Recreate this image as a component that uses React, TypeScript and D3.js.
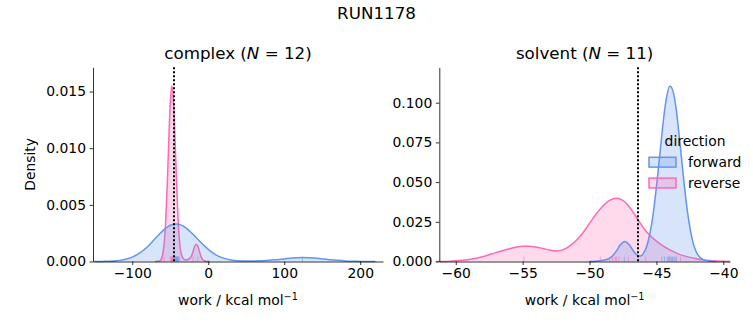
import React, { useRef, useEffect } from 'react';
import * as d3 from 'd3';

type Pt = [number, number];

// density curves: [work (kcal/mol), density]
const complexForwardKde: Pt[] = [
  [-150, 0], [-140, 0.00001], [-130, 0.00002], [-120, 0.00007], [-110, 0.00017],
  [-100, 0.00039], [-90, 0.00076], [-80, 0.0013], [-70, 0.002], [-60, 0.0027],
  [-50, 0.0032], [-42, 0.0033], [-30, 0.003], [-20, 0.0024], [-10, 0.0017],
  [0, 0.00107], [10, 0.00059], [20, 0.0003], [30, 0.00014], [40, 0.00007],
  [50, 0.00005], [60, 0.00005], [70, 0.00007], [80, 0.0001], [90, 0.00016],
  [100, 0.00023], [110, 0.0003], [125, 0.00035], [140, 0.0003], [150, 0.00023],
  [160, 0.00016], [170, 0.0001], [180, 0.00005], [190, 0.00002], [200, 0.00001],
  [210, 0], [220, 0],
];
const complexReverseKde: Pt[] = [
  [-70, 0], [-64, 0.00005], [-62, 0.0002], [-60, 0.0006], [-58, 0.0016],
  [-56, 0.0036], [-54, 0.0067], [-52, 0.0106], [-50, 0.014], [-48, 0.0155],
  [-46, 0.0144], [-44, 0.0113], [-42, 0.0075], [-40, 0.0041], [-38, 0.0019],
  [-36, 0.0008], [-34, 0.0004], [-32, 0.0002], [-30, 0.00015], [-28, 0.00015],
  [-26, 0.0002], [-24, 0.0003], [-22, 0.0005], [-20, 0.0009], [-18, 0.0013],
  [-16, 0.00153], [-14, 0.0014], [-12, 0.001], [-10, 0.00053], [-8, 0.00023],
  [-5, 0.00005], [-2, 0], [2, 0],
];
const solventForwardKde: Pt[] = [
  [-50, 0], [-49.5, 0.0002], [-49, 0.0008], [-48.5, 0.002], [-48, 0.0065],
  [-47.7, 0.0105], [-47.37, 0.0126], [-47, 0.0102], [-46.7, 0.0063], [-46.4, 0.0038],
  [-46.2, 0.0034], [-46, 0.0048], [-45.75, 0.009], [-45.5, 0.017], [-45.25, 0.0295],
  [-45, 0.047], [-44.75, 0.067], [-44.5, 0.0874], [-44.25, 0.103], [-44, 0.1105],
  [-43.75, 0.107], [-43.5, 0.0945], [-43.25, 0.0754], [-43, 0.0547], [-42.75, 0.036],
  [-42.5, 0.0215], [-42.25, 0.0115], [-42, 0.0057], [-41.5, 0.0012], [-41, 0.0002],
  [-40.5, 0],
];
const solventReverseKde: Pt[] = [
  [-61.5, 0], [-60.5, 0.0002], [-60, 0.0004], [-59, 0.0013], [-58, 0.003],
  [-57, 0.0056], [-56, 0.008], [-55, 0.0096], [-54.5, 0.0096], [-54, 0.0091],
  [-53.5, 0.0082], [-53, 0.0072], [-52.5, 0.0066], [-52, 0.0073], [-51.5, 0.0097],
  [-51, 0.0132], [-50.5, 0.018], [-50, 0.024], [-49.5, 0.03], [-49, 0.035],
  [-48.5, 0.0385], [-48, 0.0398], [-47.5, 0.0385], [-47, 0.034], [-46.5, 0.028],
  [-46, 0.0215], [-45.5, 0.0165], [-45, 0.0128], [-44.5, 0.0098], [-44, 0.0073],
  [-43.5, 0.0053], [-43, 0.0037], [-42.5, 0.0026], [-42, 0.0018], [-41.5, 0.0011],
  [-41, 0.0006], [-40.5, 0.0003], [-40, 0.0001], [-39.5, 0],
];

// individual work values (rug)
const complexForwardWork = [-45, -44, -43, -42.5, -42, -41.5, -41, -40.5, -40, -39, -38, 124];
const complexReverseWork = [-61, -58, -50, -49, -48.5, -48, -47.5, -47, -46.5, -45.5, -20, -14];
const solventForwardWork = [-47.4, -44.6, -44.4, -44.2, -44.1, -44, -43.9, -43.8, -43.7, -43.6, -43.5];
const solventReverseWork = [-54.9, -49.2, -48.5, -48.3, -48.1, -48, -47.8, -47.1, -45.8, -44, -43.2];

// free energy estimates (dotted lines)
const complexDeltaG = -45.2;
const solventDeltaG = -46.4;

const complexXTicks = [-100, 0, 100, 200];
const complexYTicks = [0, 0.005, 0.01, 0.015];
const solventXTicks = [-60, -55, -50, -45, -40];
const solventYTicks = [0, 0.025, 0.05, 0.075, 0.1];

const directions = ['forward', 'reverse'];
const colors: Record<string, string> = { forward: '#6495ED', reverse: '#FF69B4' };

const FONT = "'DejaVu Sans', sans-serif";

const App: React.FC = () => {
  const svgRef = useRef<SVGSVGElement>(null);

  useEffect(() => {
    if (!svgRef.current) return;
    const svg = d3.select(svgRef.current);
    svg.selectAll('*').remove();
    svg.style('font-family', FONT);

    const top = 67.3;
    const bottom = 261.5;

    const panels = [
      {
        label: 'complex', n: 12, left: 93, right: 383, xDomain: [-151.7, 230], yMax: 0.01714,
        xTicks: complexXTicks, yTicks: complexYTicks, yFmt: '.3f',
        kde: { forward: complexForwardKde, reverse: complexReverseKde },
        rug: { forward: complexForwardWork, reverse: complexReverseWork },
        dG: complexDeltaG, yLabel: true,
      },
      {
        label: 'solvent', n: 11, left: 439.3, right: 730, xDomain: [-61.23, -39.5], yMax: 0.1223,
        xTicks: solventXTicks, yTicks: solventYTicks, yFmt: '.3f',
        kde: { forward: solventForwardKde, reverse: solventReverseKde },
        rug: { forward: solventForwardWork, reverse: solventReverseWork },
        dG: solventDeltaG, yLabel: false,
      },
    ];

    // figure title
    svg.append('text')
      .attr('x', 376.5).attr('y', 18.5)
      .attr('text-anchor', 'middle')
      .style('font-size', '16.7px')
      .text('RUN1178');

    panels.forEach(p => {
      const x = d3.scaleLinear().domain(p.xDomain).range([p.left, p.right]);
      const y = d3.scaleLinear().domain([0, p.yMax]).range([bottom, top]);
      const g = svg.append('g');

      const area = d3.area<Pt>()
        .x(d => x(d[0]))
        .y0(y(0))
        .y1(d => y(d[1]))
        .curve(d3.curveMonotoneX);
      const line = d3.line<Pt>()
        .x(d => x(d[0]))
        .y(d => y(d[1]))
        .curve(d3.curveMonotoneX);

      // seaborn draws hue levels in reverse order
      [...directions].reverse().forEach(dir => {
        const data = (p.kde as any)[dir] as Pt[];
        g.append('path')
          .datum(data)
          .attr('d', area)
          .attr('fill', colors[dir])
          .attr('fill-opacity', 0.25);
        g.append('path')
          .datum(data)
          .attr('d', line)
          .attr('fill', 'none')
          .attr('stroke', colors[dir])
          .attr('stroke-width', 1.5);
      });

      // rug
      directions.forEach(dir => {
        g.selectAll(`.rug-${dir}`)
          .data((p.rug as any)[dir] as number[])
          .join('line')
          .attr('x1', d => x(d)).attr('x2', d => x(d))
          .attr('y1', y(0)).attr('y2', y(0) - 4.9)
          .attr('stroke', colors[dir])
          .attr('stroke-opacity', 0.55)
          .attr('stroke-width', 1);
      });

      // free energy line
      const vx = Math.round(x(p.dG));
      g.append('line')
        .attr('x1', vx).attr('x2', vx)
        .attr('y1', top).attr('y2', bottom)
        .attr('stroke', '#000')
        .attr('stroke-width', 2)
        .attr('stroke-dasharray', '2,2');

      // axes
      const xAxis = g.append('g')
        .attr('transform', `translate(0,${bottom})`)
        .call(d3.axisBottom(x).tickValues(p.xTicks).tickSize(3.5).tickSizeOuter(0).tickPadding(3.5)
          .tickFormat(d3.format('d') as any));
      const yAxis = g.append('g')
        .attr('transform', `translate(${p.left},0)`)
        .call(d3.axisLeft(y).tickValues(p.yTicks).tickSize(3.5).tickSizeOuter(0).tickPadding(3.5)
          .tickFormat(d3.format(p.yFmt) as any));
      [xAxis, yAxis].forEach(a => {
        a.selectAll('path, line').attr('stroke', '#000').attr('stroke-width', 0.8);
        a.selectAll('text')
          .attr('fill', '#000')
          .style('font-family', FONT)
          .style('font-size', '13.9px');
      });

      // panel title
      const t = svg.append('text')
        .attr('x', (p.left + p.right) / 2).attr('y', 58.5)
        .attr('text-anchor', 'middle')
        .style('font-size', '16.7px');
      t.append('tspan').text(`${p.label} (`);
      t.append('tspan').style('font-style', 'italic').text('N');
      t.append('tspan').text(` = ${p.n})`);

      // x label
      const xl = svg.append('text')
        .attr('x', (p.left + p.right) / 2).attr('y', 305)
        .attr('text-anchor', 'middle')
        .style('font-size', '13.9px');
      xl.append('tspan').text('work / kcal mol');
      xl.append('tspan').attr('dy', -5).style('font-size', '9.7px').text('\u22121');

      if (p.yLabel) {
        svg.append('text')
          .attr('transform', `translate(34.5,${(top + bottom) / 2}) rotate(-90)`)
          .attr('text-anchor', 'middle')
          .style('font-size', '13.9px')
          .text('Density');
      }
    });

    // legend (no frame)
    const lg = svg.append('g');
    lg.append('text')
      .attr('x', 695).attr('y', 145.5)
      .attr('text-anchor', 'middle')
      .style('font-size', '13.9px')
      .text('direction');
    directions.forEach((dir, i) => {
      const yy = 157.3 + i * 20.8;
      lg.append('rect')
        .attr('x', 649).attr('y', yy)
        .attr('width', 27).attr('height', 9.8)
        .attr('fill', colors[dir]).attr('fill-opacity', 0.25)
        .attr('stroke', colors[dir]).attr('stroke-width', 1.5);
      lg.append('text')
        .attr('x', 688).attr('y', yy + 9.5)
        .style('font-size', '13.9px')
        .text(dir);
    });
  }, []);

  return (
    <svg
      ref={svgRef}
      width={753}
      height={325}
      style={{ position: 'absolute', left: 0, top: 0, background: '#fff' }}
    />
  );
};

export default App;
